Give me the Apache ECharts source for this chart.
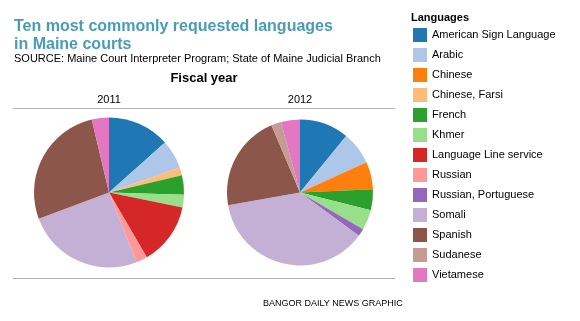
<!DOCTYPE html>
<html><head><meta charset="utf-8">
<script src="https://cdn.jsdelivr.net/npm/echarts@6/dist/echarts.min.js"></script>
<style>html,body{margin:0;padding:0;background:#fff}#c{width:580px;height:321px}</style>
</head><body><div id="c"></div>
<script>
const categories = ["American Sign Language","Arabic","Chinese","Chinese, Farsi","French","Khmer","Language Line service","Russian","Russian, Portuguese","Somali","Spanish","Sudanese","Vietamese"];
const palette = ["#1f77b4","#aec7e8","#ff7f0e","#ffbb78","#2ca02c","#98df8a","#d62728","#ff9896","#9467bd","#c5b0d5","#8c564b","#c49c94","#e377c2"];
const names2011 = ["American Sign Language","Arabic","Chinese, Farsi","French","Khmer","Language Line service","Russian","Somali","Spanish","Vietamese"];
const values2011 = [13.4,6.2,1.7,4.2,2.7,13.4,2.4,25.3,27.0,3.7];
const names2012 = ["American Sign Language","Arabic","Chinese","French","Khmer","Russian, Portuguese","Somali","Spanish","Sudanese","Vietamese"];
const values2012 = [10.9,7.3,6.1,4.6,4.5,1.7,37.1,21.4,2.2,4.2];
const years = ["2011","2012"];

function mk(names, vals){
  return names.map((n,i)=>({name:n,value:vals[i],itemStyle:{color:palette[categories.indexOf(n)]}}));
}
const font = "Liberation Sans, Arial, sans-serif";
function txt(x, y, s, f, color, align){
  return {type:'text', x:x, y:y, silent:true, style:{text:s, font:f, fill:color||'#000', textAlign:align||'left', textVerticalAlign:'top'}};
}
const chart = echarts.init(document.getElementById('c'), null, {renderer:'canvas'});
const pieBase = {type:'pie', startAngle:90, clockwise:true, label:{show:false}, labelLine:{show:false}, emphasis:{disabled:true}, silent:true, animation:false, itemStyle:{borderWidth:0}};
chart.setOption({
  animation:false,
  textStyle:{fontFamily:font},
  legend:{
    orient:'vertical', left:408, top:23, icon:'rect', itemWidth:14, itemHeight:14, itemGap:6,
    data:categories, selectedMode:false,
    textStyle:{fontSize:11, color:'#000', fontFamily:font}
  },
  graphic:[
    {type:'text', x:14, y:18, silent:true, style:{text:"Ten most commonly requested languages\nin Maine courts", font:'bold 16px '+font, fill:'#4a9cb6', lineHeight:17.5, textVerticalAlign:'top'}},
    txt(14, 53, "SOURCE: Maine Court Interpreter Program; State of Maine Judicial Branch", '11px '+font),
    txt(204, 72, "Fiscal year", 'bold 13px '+font, '#000', 'center'),
    txt(109, 94, years[0], '11px '+font, '#000', 'center'),
    txt(300, 94, years[1], '11px '+font, '#000', 'center'),
    txt(263, 299, "BANGOR DAILY NEWS GRAPHIC", '9px '+font),
    txt(411, 12, "Languages", 'bold 11px '+font),
    {type:'line', silent:true, shape:{x1:13,y1:108.5,x2:200,y2:108.5}, style:{stroke:'#b0b0b0', lineWidth:1}},
    {type:'line', silent:true, shape:{x1:200,y1:108.5,x2:395,y2:108.5}, style:{stroke:'#b0b0b0', lineWidth:1}},
    {type:'line', silent:true, shape:{x1:13,y1:278.5,x2:200,y2:278.5}, style:{stroke:'#b0b0b0', lineWidth:1}},
    {type:'line', silent:true, shape:{x1:200,y1:278.5,x2:395,y2:278.5}, style:{stroke:'#b0b0b0', lineWidth:1}}
  ],
  series:[
    Object.assign({}, pieBase, {name:years[0], center:[109,192.5], radius:75, data:mk(names2011, values2011)}),
    Object.assign({}, pieBase, {name:years[1], center:[300,192.5], radius:73, data:mk(names2012, values2012)})
  ]
});
</script></body></html>
